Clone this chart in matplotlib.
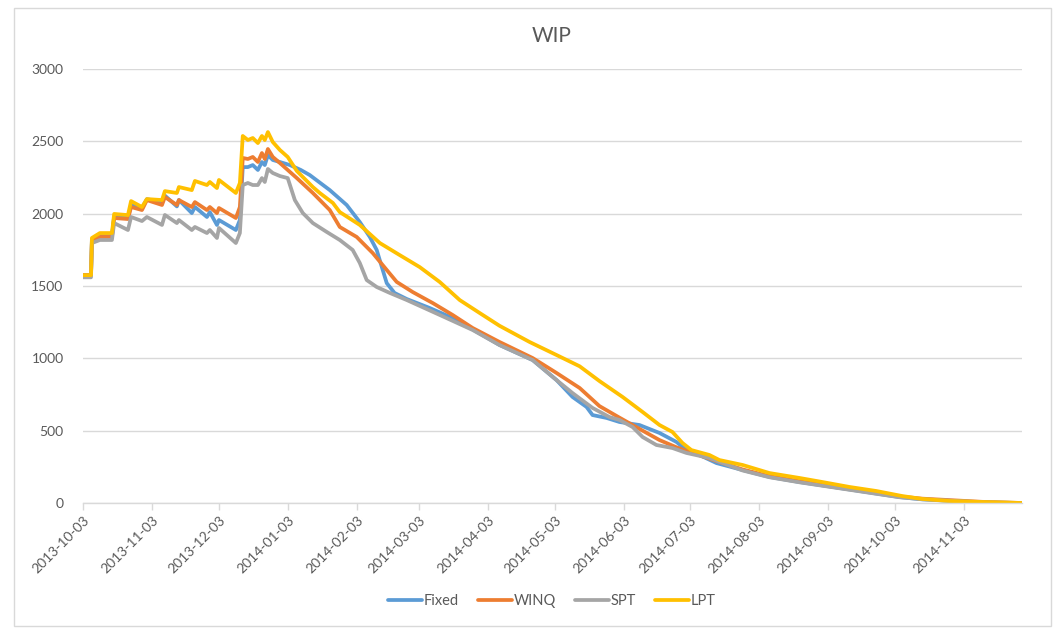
import datetime as dt

import matplotlib
matplotlib.use('Agg')
import matplotlib.pyplot as plt
from matplotlib.patches import Rectangle


START = dt.date(2013, 10, 3)

fixed_days = [0, 3.6, 4, 7.6, 13, 14, 20.2, 21.6, 26.5, 28.7, 35.5, 36.8, 42.2, 43.1,
              48.9, 50.3, 55.7, 57, 60.2, 61.1, 68.7, 70.5, 71.8, 74.1, 76.3, 78.6,
              80.4, 81.7, 83.1, 85.3, 88.5, 93, 97.9, 101.9, 110.9, 118.5, 124.4,
              128.9, 132, 134.3, 136.5, 140, 145.5, 155.8, 166.1, 175.1, 187.2,
              202.1, 212.8, 220, 226.3, 229, 235.3, 241.1, 250.1, 259.1, 266.7,
              271.2, 277, 284.7, 296.4, 308.5, 322, 336.8, 352, 366.9, 377.2, 404.1, 422]
fixed_vals = [1575, 1575, 1820, 1845, 1845, 1980, 1970, 2060, 2040, 2100, 2080, 2125, 2050, 2095,
              2004, 2046, 1977, 2011, 1922, 1956, 1887, 1956, 2322, 2322, 2336, 2302,
              2357, 2336, 2405, 2371, 2357, 2336, 2302, 2267, 2163, 2060, 1942,
              1839, 1749, 1631, 1520, 1452, 1410, 1348, 1279, 1200, 1092,
              988, 850, 733, 664, 608, 588, 560, 539, 484, 422,
              366, 332, 276, 228, 180, 145, 111, 76, 41, 25, 3, 0]

winq_days = [0, 3.6, 4, 7.6, 13, 14, 20.2, 21.6, 26.5, 28.7, 35.5, 36.8, 42.2, 43.1,
             48.9, 50.3, 55.7, 57, 60.2, 61.1, 68.7, 70.5, 71.8, 74.1, 76.3, 78.6,
             80.4, 81.7, 83.1, 85.3, 88.5, 96.1, 103.3, 110.9, 115.4, 123, 130.2,
             136.5, 141, 148.2, 157.2, 166.1, 175.1, 187.2, 202.1, 212.8, 223.2,
             232.1, 241.1, 251.5, 259.1, 266.7, 273.9, 284.7, 296.4, 308.5, 322,
             336.8, 352, 366.9, 377.2, 404.1, 422]
winq_vals = [1575, 1575, 1815, 1839, 1839, 1970, 1963, 2046, 2025, 2094, 2060, 2115, 2060, 2094,
             2046, 2080, 2025, 2046, 2004, 2039, 1970, 2046, 2385, 2378, 2392, 2357,
             2419, 2378, 2447, 2392, 2350, 2246, 2143, 2025, 1908, 1839, 1728,
             1611, 1528, 1458, 1382, 1300, 1210, 1113, 1002, 899, 795,
             670, 590, 500, 435, 385, 346, 290, 232, 185, 150,
             113, 80, 45, 30, 8, 0]

spt_days = [0, 3.6, 4, 7.6, 13, 14, 20.2, 21.6, 26.5, 28.7, 35.5, 36.8, 42.2, 43.1,
            48.9, 50.3, 55.7, 57, 60.2, 61.1, 68.7, 70.5, 71.8, 74.1, 76.3, 78.6,
            80.4, 81.7, 83.1, 85.3, 88.5, 92, 95.2, 98.8, 103.3, 109.6, 115.4,
            121.2, 124.4, 127.5, 132, 137.9, 145.5, 160.3, 175.1, 187.2, 202.1,
            212.8, 220, 229, 236.6, 241.1, 247, 251.5, 257.7, 264.9, 271.2, 281.5,
            296.4, 308.5, 322, 336.8, 352, 366.9, 377.2, 404.1, 422]
spt_vals = [1560, 1560, 1797, 1818, 1818, 1935, 1887, 1977, 1949, 1977, 1922, 1991, 1935, 1956,
            1887, 1908, 1866, 1887, 1832, 1901, 1797, 1866, 2198, 2212, 2198, 2198,
            2246, 2219, 2309, 2281, 2260, 2246, 2094, 2004, 1935, 1873, 1818,
            1749, 1659, 1541, 1493, 1452, 1403, 1300, 1196, 1092, 988,
            850, 760, 657, 594, 574, 525, 456, 401, 380, 346, 311,
            225, 178, 143, 109, 74, 40, 26, 5, 0]

lpt_days = [0, 3.6, 4, 7.6, 13, 14, 20.2, 21.6, 26.5, 28.7, 35.5, 36.8, 42.2, 43.1,
            48.9, 50.3, 55.7, 57, 60.2, 61.1, 68.7, 70.5, 71.8, 74.1, 76.3, 78.6,
            80.4, 81.7, 83.1, 85.3, 88.5, 92, 96.1, 103.3, 106.4, 112.3, 115.4,
            124.4, 133.4, 142.3, 151.3, 160.3, 169.3, 178.3, 187.2, 200.7, 212.8,
            223.2, 232.1, 242.5, 251.5, 259.1, 264.9, 269.4, 273.4, 281.5, 286,
            296.4, 308.5, 322, 332.3, 344.4, 356.5, 368.2, 377.2, 389.3, 404.1, 422]
lpt_vals = [1575, 1575, 1832, 1866, 1866, 1998, 1990, 2087, 2046, 2101, 2094, 2156, 2143, 2184,
            2163, 2226, 2198, 2219, 2177, 2233, 2143, 2212, 2537, 2509, 2523, 2488,
            2537, 2509, 2564, 2495, 2440, 2392, 2295, 2184, 2143, 2074, 2011,
            1922, 1797, 1714, 1631, 1528, 1403, 1313, 1225, 1113, 1023,
            945, 843, 733, 629, 539, 491, 415, 366, 332, 297,
            263, 207, 173, 145, 111, 83, 48, 28, 14, 7, 0]

series = [
    ('Fixed', fixed_days, fixed_vals, '#5B9BD5'),
    ('WINQ', winq_days, winq_vals, '#ED7D31'),
    ('SPT', spt_days, spt_vals, '#A5A5A5'),
    ('LPT', lpt_days, lpt_vals, '#FFC000'),
]

tick_dates = ['2013-10-03', '2013-11-03', '2013-12-03', '2014-01-03', '2014-02-03',
              '2014-03-03', '2014-04-03', '2014-05-03', '2014-06-03', '2014-07-03',
              '2014-08-03', '2014-09-03', '2014-10-03', '2014-11-03']


def to_dates(days):
    base = dt.datetime(START.year, START.month, START.day)
    return [base + dt.timedelta(days=d) for d in days]


plt.rcParams['font.family'] = ['Lato', 'DejaVu Sans']
TEXT = '#595959'
GRID = '#D9D9D9'

fig = plt.figure(figsize=(10.61, 6.3), dpi=100)
ax = fig.add_axes([83 / 1061, 1 - 503 / 630, (1022 - 83) / 1061, 434 / 630])

for name, days, vals, color in series:
    ax.plot(to_dates(days), vals, color=color, lw=2.7, label=name,
            solid_joinstyle='round', solid_capstyle='round')

ax.set_ylim(0, 3000)
ax.set_yticks(range(0, 3001, 500))
ax.set_xlim(to_dates([0])[0], to_dates([422])[0])
ticks = [dt.datetime.strptime(t, '%Y-%m-%d') for t in tick_dates]
ax.set_xticks(ticks)
ax.set_xticklabels(tick_dates, rotation=45, ha='right', rotation_mode='anchor')

ax.grid(axis='y', color=GRID, lw=1)
ax.set_axisbelow(True)
for s in ['left', 'right', 'top']:
    ax.spines[s].set_visible(False)
ax.spines['bottom'].set_color(GRID)
ax.spines['bottom'].set_linewidth(1)
ax.tick_params(axis='y', length=0, pad=14, labelsize=10, labelcolor=TEXT)
ax.tick_params(axis='x', length=5, color=GRID, width=1, pad=3, labelsize=10,
               labelcolor=TEXT)

fig.text(552 / 1061, 1 - 36 / 630, 'WIP', ha='center', va='center',
         fontsize=15, color=TEXT)

fig.legend(loc='center', bbox_to_anchor=(552 / 1061, 1 - 601 / 630), ncol=4,
           frameon=False, fontsize=10.5, labelcolor=TEXT, handlelength=2.3,
           handletextpad=0.15, columnspacing=1.3)

fig.patches.append(Rectangle((14 / 1061, 1 - 626 / 630), (1051 - 14) / 1061,
                             (626 - 8) / 630, transform=fig.transFigure,
                             fill=False, edgecolor=GRID, lw=1))

fig.savefig('out.png', dpi=100, facecolor='white')
